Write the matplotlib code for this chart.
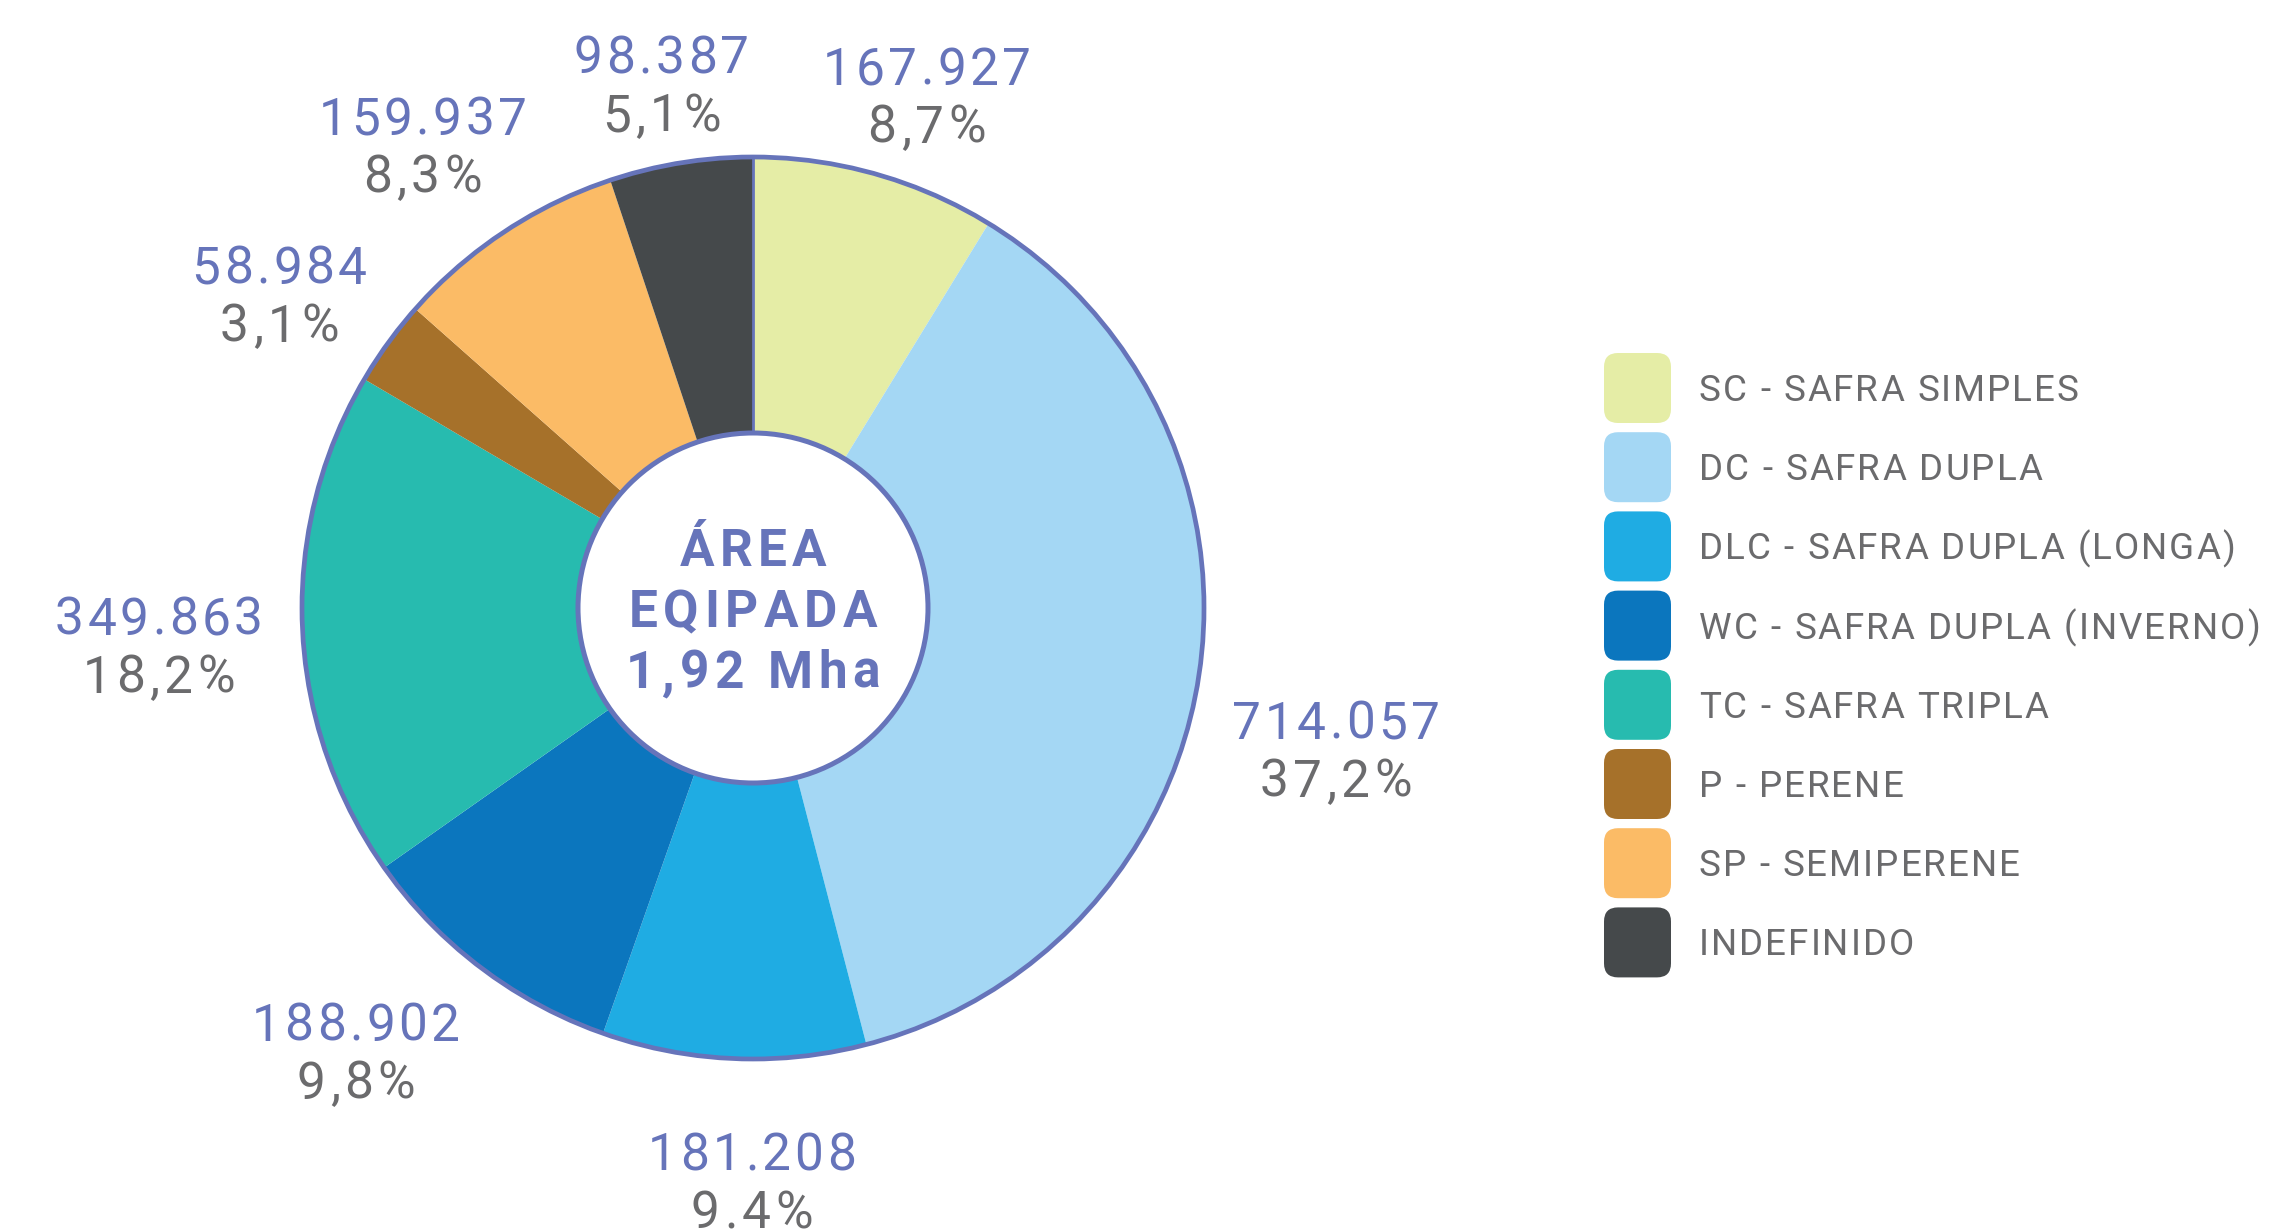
import numpy as np
import matplotlib
matplotlib.use("Agg")
import matplotlib.pyplot as plt
from matplotlib.patches import Circle, FancyBboxPatch
from matplotlib.font_manager import FontProperties

# dados
categorias = ["SC - SAFRA SIMPLES", "DC - SAFRA DUPLA", "DLC - SAFRA DUPLA (LONGA)",
              "WC - SAFRA DUPLA (INVERNO)", "TC - SAFRA TRIPLA", "P - PERENE",
              "SP - SEMIPERENE", "INDEFINIDO"]
areas = [167927, 714057, 181208, 188902, 349863, 58984, 159937, 98387]
rotulos_area = ["167.927", "714.057", "181.208", "188.902", "349.863", "58.984", "159.937", "98.387"]
rotulos_pct = ["8,7%", "37,2%", "9.4%", "9,8%", "18,2%", "3,1%", "8,3%", "5,1%"]
titulo_centro = ["ÁREA", "EQIPADA", "1,92 Mha"]
cores = ["#E5EDA6", "#A4D7F4", "#1FACE3", "#0B76BE", "#27BBAF", "#A6712A", "#FBBB66", "#45494B"]

AZUL = "#6674BA"
CINZA = "#6B6B6D"
FONTE = "Roboto"

# layout (pixels)
W, H = 2271, 1231
cx, cy = 753, H - 608
R = 451
r_in = 175
dist_rotulo = [1.20, 1.33, 1.27, 1.32, 1.32, 1.26, 1.26, 1.18]
desvio_ang = [3.0, 5.2, -2.3, 4.7, -1.3, -2.5, -2.1, -0.7]   # graus, sentido horario

fig = plt.figure(figsize=(W / 100, H / 100), dpi=100)
ax = fig.add_axes([0, 0, 1, 1])
renderer = fig.canvas.get_renderer()


def largura(s, fp):
    return renderer.get_text_width_height_descent(s, fp, ismath=False)[0]


def texto_espacado(x, y, s, size, track, color, ha="center", weight="normal", zorder=6):
    # escreve letra a letra para imitar o espacamento entre letras
    fp = FontProperties(family=FONTE, size=size, weight=weight)
    base = largura("H", fp)
    total = largura(s, fp) + track * (len(s) - 1)
    x0 = x - total / 2 if ha == "center" else x
    for i, ch in enumerate(s):
        if ch == " ":
            continue
        xi = x0 + largura(s[:i] + "H", fp) - base + track * i
        ax.text(xi, y, ch, ha="left", va="baseline", fontproperties=fp,
                color=color, zorder=zorder)


def cap(size):
    return 0.711 * size * 100 / 72


wedges, _ = ax.pie(areas, colors=cores, startangle=90, counterclock=False,
                   center=(cx, cy), radius=R, frame=True,
                   wedgeprops=dict(linewidth=0, antialiased=True))

# linha inicial no topo
ax.plot([cx, cx], [cy + r_in, cy + R], color=AZUL, lw=2, zorder=3)
# borda externa e centro
ax.add_patch(Circle((cx, cy), R, fill=False, edgecolor=AZUL, lw=3.4, zorder=4))
ax.add_patch(Circle((cx, cy), r_in, facecolor="white", edgecolor=AZUL, lw=3.6, zorder=5))

for k, linha in enumerate(titulo_centro):
    texto_espacado(cx, H - 566 - 61 * k, linha, 37, 5.5, AZUL, weight="bold")

# rótulos
total = sum(areas)
acum = 0
for i, v in enumerate(areas):
    meio = (acum + v / 2) / total
    acum += v
    ang = np.deg2rad(90 - 360 * meio - desvio_ang[i])
    x = cx + dist_rotulo[i] * R * np.cos(ang)
    y = cy + dist_rotulo[i] * R * np.sin(ang)
    texto_espacado(x, y + 29 - cap(37) / 2, rotulos_area[i], 37, 3.5, AZUL)
    texto_espacado(x, y - 29 - cap(37) / 2, rotulos_pct[i], 37, 4.5, CINZA)

# legenda
lx, ly0, passo = 1604, H - 388, 79.2
for i, (cat, cor) in enumerate(zip(categorias, cores)):
    y = ly0 - i * passo
    ax.add_patch(FancyBboxPatch((lx + 10, y - 25), 47, 50,
                                boxstyle="round,pad=10,rounding_size=14",
                                facecolor=cor, edgecolor="none"))
    texto_espacado(lx + 95, y - cap(26.5) / 2, cat, 26.5, 2.0, CINZA, ha="left")

ax.set_xlim(0, W)
ax.set_ylim(0, H)
ax.set_aspect("equal")
ax.axis("off")

fig.savefig("out.png", dpi=100, facecolor="white")
